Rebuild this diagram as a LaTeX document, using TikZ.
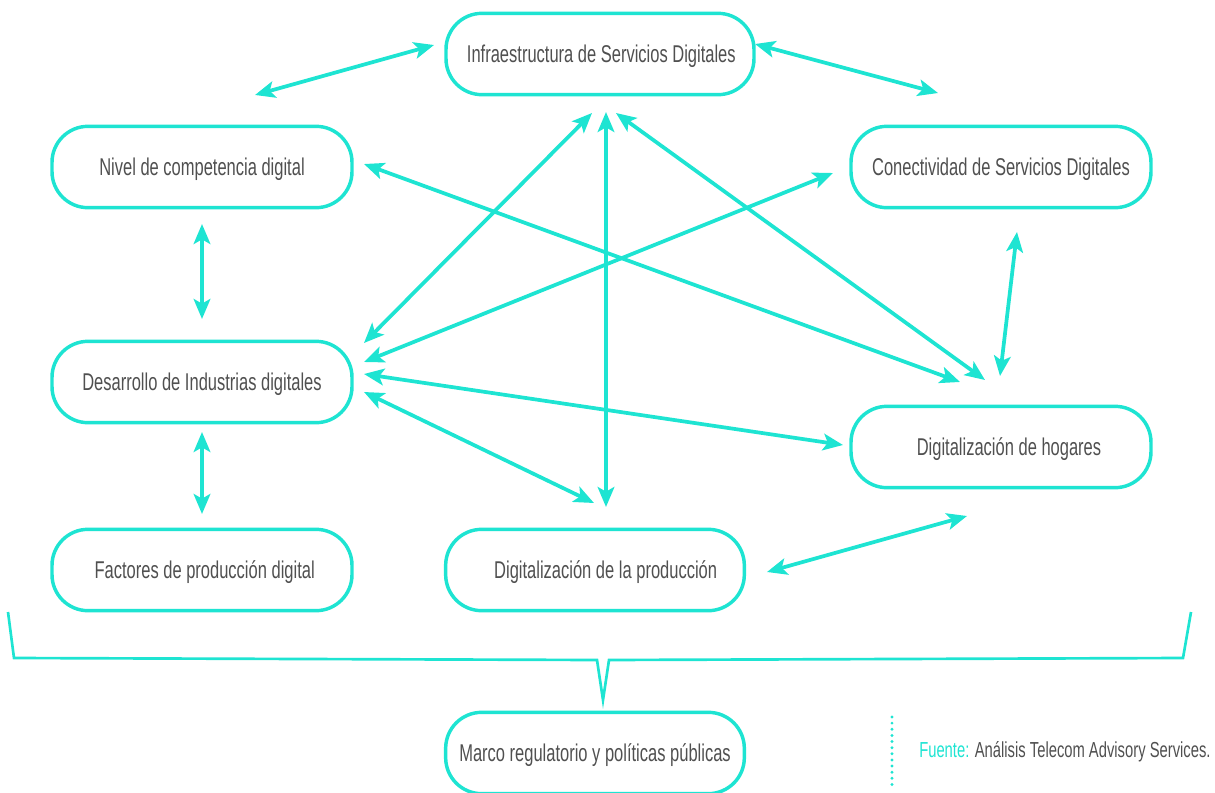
\documentclass[tikz,border=0pt]{standalone}
\usepackage{fontspec}
\setmainfont{Liberation Sans}[FakeStretch=0.68]
\usetikzlibrary{arrows.meta,calc}
\definecolor{turq}{RGB}{30,228,210}
\definecolor{txtgray}{RGB}{80,80,80}
\begin{document}
\begin{tikzpicture}[x=0.75pt,y=-0.75pt,
  pill/.style={draw=turq,line width=2.6pt,rounded corners=27pt,fill=white,
    minimum width=225pt,minimum height=61pt,inner sep=0pt,
    text height=13.4pt,text depth=0pt,
    font=\fontsize{18.2}{20}\selectfont,text=txtgray},
  link/.style={draw=turq,line width=2.8pt,
    {Stealth[length=15pt,width=12.5pt,inset=3.5pt]}-{Stealth[length=15pt,width=12.5pt,inset=3.5pt]}},
  brace/.style={draw=turq,line width=2pt,line join=miter}]
\useasboundingbox (0,0) rectangle (1215,793);

% boxes
\node[pill,minimum width=231pt] (infra) at (600,54) {\hspace*{2pt}Infraestructura de Servicios Digitales};
\node[pill] (nivel) at (202,167) {Nivel de competencia digital};
\node[pill] (conec) at (1001,167) {Conectividad de Servicios Digitales};
\node[pill] (desar) at (202,382) {Desarrollo de Industrias digitales};
\node[pill] (hogar) at (1001,447) {\hspace*{12pt}Digitalización de hogares};
\node[pill] (fact)  at (202,570) {\hspace*{4pt}Factores de producción digital};
\node[pill,minimum width=224pt] (prod) at (595,570) {\hspace*{16pt}Digitalización de la producción};
\node[pill,minimum width=224pt] (marco) at (595,753) {Marco regulatorio y políticas públicas};

% arrow end points
\coordinate (a1) at (255,95);   \coordinate (a2) at (434,45);
\coordinate (b1) at (755,44);   \coordinate (b2) at (938,93);
\coordinate (c1) at (202,224);  \coordinate (c2) at (202,319);
\coordinate (d1) at (202,432);  \coordinate (d2) at (202,514);
\coordinate (e1) at (1017,232); \coordinate (e2) at (1000,376);
\coordinate (f1) at (767,572);  \coordinate (f2) at (967,516);
\coordinate (g1) at (606,112);  \coordinate (g2) at (606,507);
\coordinate (h1) at (592,113);  \coordinate (h2) at (364,343);
\coordinate (i1) at (616,113);  \coordinate (i2) at (985,380);
\coordinate (j1) at (833,173);  \coordinate (j2) at (364,362);
\coordinate (k1) at (364,164);  \coordinate (k2) at (960,382);
\coordinate (l1) at (364,374);  \coordinate (l2) at (843,445);
\coordinate (m1) at (364,392);  \coordinate (m2) at (594,503);

\foreach \s/\t in {a1/a2,b1/b2,c1/c2,d1/d2,e1/e2,f1/f2,g1/g2,h1/h2,i1/i2,j1/j2,k1/k2,l1/l2,m1/m2}
  \draw[link] (\s) -- (\t);

% bracket gathering all boxes over the regulatory frame
\coordinate (br0) at (8,612);
\coordinate (br1) at (14,658);
\coordinate (br2) at (597,660);
\coordinate (br3) at (603,700);
\coordinate (br4) at (609,660);
\coordinate (br5) at (1183,658);
\coordinate (br6) at (1191,612);
\draw[brace] (br0) -- (br1) -- (br2) -- (br3) -- (br4) -- (br5) -- (br6);

% source note
\coordinate (s1) at (892,717);
\coordinate (s2) at (892,787);
\draw[turq,line width=2.4pt,line cap=round,dash pattern=on 0pt off 4.6pt] (s1) -- (s2);
\node[anchor=base west,inner sep=0pt,font=\fontsize{16.3}{18}\selectfont] (src) at (919,757)
  {\textcolor{turq}{Fuente:} \textcolor{txtgray}{Análisis Telecom Advisory Services.}};
\end{tikzpicture}
\end{document}
